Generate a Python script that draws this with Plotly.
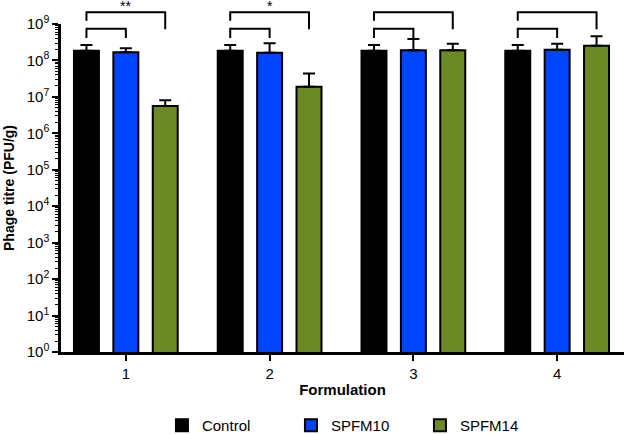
import plotly.graph_objects as go

formulations = [1, 2, 3, 4]
series_names = ["Control", "SPFM10", "SPFM14"]
control = [1.85e8, 1.85e8, 1.85e8, 1.85e8]
control_err = [0.8e8, 0.8e8, 0.8e8, 0.8e8]
spfm10 = [1.67e8, 1.62e8, 1.89e8, 1.97e8]
spfm10_err = [0.48e8, 1.33e8, 1.98e8, 0.91e8]
spfm14 = [5.6e6, 1.9e7, 1.89e8, 2.54e8]
spfm14_err = [2.5e6, 2.5e7, 0.99e8, 2.06e8]
colors = ["#000000", "#0044FF", "#6B8A23"]
sig_labels = ["**", "*", "", ""]
y_exponents = list(range(0, 10))

FONT = "Liberation Sans, Arial, sans-serif"
FS = 15
bargap = 0.178
bargroupgap = 0.366
slot = (1 - bargap) / 3

fig = go.Figure()
for name, vals, errs, col in zip(series_names, [control, spfm10, spfm14],
                                 [control_err, spfm10_err, spfm14_err], colors):
    fig.add_trace(go.Bar(
        x=formulations, y=vals, name=name,
        marker=dict(color=col, line=dict(color="black", width=2)),
        error_y=dict(type="data", array=errs, arrayminus=[0] * len(errs),
                     symmetric=False, color="black", thickness=2, width=6),
    ))

# significance brackets (paper y)
H = 328.0
def py(p):
    return (352 - p) / H

for k, lab in zip(formulations, sig_labels):
    xc, xb, xg = k - slot, k, k + slot
    fig.add_shape(type="path", xref="x", yref="paper",
                  path=f"M {xc} {py(20.7)} L {xc} {py(12.3)} L {xg} {py(12.3)} L {xg} {py(29.3)}",
                  line=dict(color="black", width=2))
    fig.add_shape(type="path", xref="x", yref="paper",
                  path=f"M {xc} {py(38)} L {xc} {py(28.7)} L {xb} {py(28.7)} L {xb} {py(38)}",
                  line=dict(color="black", width=2))
    if lab:
        fig.add_annotation(x=k, xref="x", y=py(16.5), yref="paper", text=lab,
                           showarrow=False, yanchor="bottom",
                           font=dict(family=FONT, size=14, color="black"))

minor_vals = [m * 10 ** e for e in range(0, 9) for m in range(2, 10)]

fig.update_layout(
    width=625, height=434,
    margin=dict(l=61, r=1, t=24, b=82),
    paper_bgcolor="white", plot_bgcolor="white",
    barmode="group", bargap=bargap, bargroupgap=bargroupgap,
    font=dict(family=FONT, size=FS, color="black"),
    showlegend=True,
    legend=dict(orientation="h", x=0.523, xanchor="center",
                yref="container", y=1 - 425.5 / 434, yanchor="middle",
                font=dict(family=FONT, size=FS, color="black"),
                entrywidth=84, tracegroupgap=0),
)
fig.update_xaxes(
    range=[0.549, 4.465], tickvals=formulations, ticktext=[str(v) for v in formulations],
    showline=True, linecolor="black", linewidth=2.5, ticks="outside", ticklen=6,
    tickwidth=2, tickcolor="black", showgrid=False, zeroline=False, automargin=False,
    tickfont=dict(family=FONT, size=FS),
    title=dict(text="<b>Formulation</b>", font=dict(family=FONT, size=FS), standoff=4),
)
fig.update_yaxes(
    type="log", range=[0, 9],
    tickvals=[10 ** e for e in y_exponents],
    ticktext=[f"10<sup>{e}</sup>" for e in y_exponents],
    showline=True, linecolor="black", linewidth=2.5, ticks="outside", ticklen=6,
    tickwidth=2, tickcolor="black", showgrid=False, zeroline=False, automargin=False,
    tickfont=dict(family=FONT, size=FS),
    minor=dict(tickvals=minor_vals, ticks="outside", ticklen=3, tickwidth=1,
               tickcolor="black", showgrid=False),
    title=dict(text="<b>Phage titre (PFU/g)</b>", font=dict(family=FONT, size=14), standoff=9),
)

fig.write_html("out.html", config={"displayModeBar": False},
               post_script="document.body.style.margin='0px';")
